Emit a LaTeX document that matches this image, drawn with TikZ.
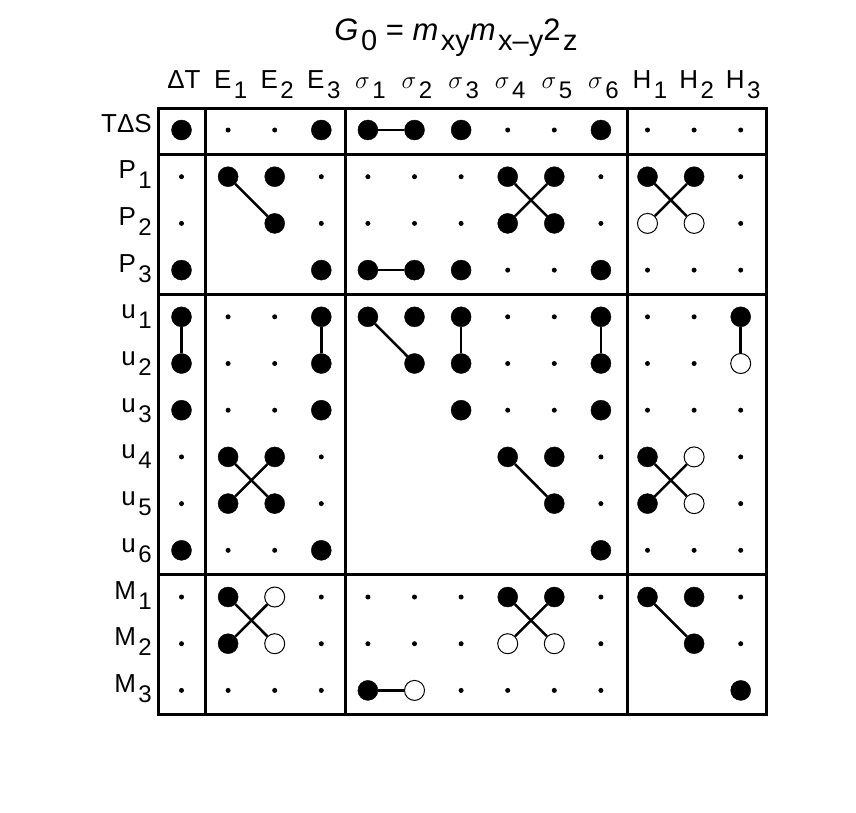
\documentclass[tikz,border=0pt]{standalone}
\usepackage{fontspec}
\setmainfont{Liberation Sans}
\newcommand\lowsub[1]{\kern2.5pt\raisebox{-10pt}{\fontsize{24}{24}\selectfont #1}}
\newcommand\lblsize{\fontsize{26}{26}\selectfont}
\tikzset{
  dotB/.style={circle,fill=black,draw=black,minimum size=20pt,inner sep=0pt},
  dotS/.style={circle,fill=black,minimum size=5pt,inner sep=0pt},
  dotO/.style={circle,fill=white,draw=black,line width=1pt,minimum size=20pt,inner sep=0pt},
  dotN/.style={inner sep=0pt,minimum size=0pt},
  pair/.style={line width=2.5pt},
  frame/.style={line width=3pt},
  lbl/.style={inner sep=0pt}
}
\begin{document}
\begin{tikzpicture}[x=1pt,y=-1pt]
	\useasboundingbox (0,0) rectangle (856,812);
	\node[lbl,anchor=base] (title) at (456,40) {\fontsize{31}{31}\selectfont {\itshape G}\lowsub{\fontsize{29}{29}\selectfont 0} = {\itshape m}\lowsub{\fontsize{29}{29}\selectfont xy}{\itshape m}\lowsub{\fontsize{29}{29}\selectfont x\textendash y}2\lowsub{\fontsize{29}{29}\selectfont z}};
	% column labels
	\foreach \t [count=\c from 0] in {ΔT,E\lowsub{1},E\lowsub{2},E\lowsub{3},$\sigma$\lowsub{1},$\sigma$\lowsub{2},$\sigma$\lowsub{3},$\sigma$\lowsub{4},$\sigma$\lowsub{5},$\sigma$\lowsub{6},H\lowsub{1},H\lowsub{2},H\lowsub{3}}
		\node[lbl,anchor=base] (col\c) at (184+46.6*\c,88) {\lblsize\t};
	% row labels
	\foreach \t [count=\r from 0] in {TΔS,P\lowsub{1},P\lowsub{2},P\lowsub{3},u\lowsub{1},u\lowsub{2},u\lowsub{3},u\lowsub{4},u\lowsub{5},u\lowsub{6},M\lowsub{1},M\lowsub{2},M\lowsub{3}}
		\node[lbl,anchor=base east] (row\r) at (152,132+46.7*\r) {\lblsize\t};
	% cells, one line per row
	\foreach \cells [count=\r from 0] in {
		{B,S,S,B,B,B,B,S,S,B,S,S,S},
		{S,B,B,S,S,S,S,B,B,S,B,B,S},
		{S,N,B,S,S,S,S,B,B,S,O,O,S},
		{B,N,N,B,B,B,B,S,S,B,S,S,S},
		{B,S,S,B,B,B,B,S,S,B,S,S,B},
		{B,S,S,B,N,B,B,S,S,B,S,S,O},
		{B,S,S,B,N,N,B,S,S,B,S,S,S},
		{S,B,B,S,N,N,N,B,B,S,B,O,S},
		{S,B,B,S,N,N,N,N,B,S,B,O,S},
		{B,S,S,B,N,N,N,N,N,B,S,S,S},
		{S,B,O,S,S,S,S,B,B,S,B,B,S},
		{S,B,O,S,S,S,S,O,O,S,N,B,S},
		{S,S,S,S,B,O,S,S,S,S,N,N,B}}
		\foreach \t [count=\c from 0] in \cells
			\node[dot\t] (c\c-\r) at (181.5+46.6*\c,130+46.7*\r) {};
	% pairs
	\foreach \a/\b in {c4-0/c5-0, c1-1/c2-2, c7-1/c8-2, c8-1/c7-2, c10-1/c11-2, c11-1/c10-2,
		c4-3/c5-3, c0-4/c0-5, c3-4/c3-5, c4-4/c5-5, c6-4/c6-5, c9-4/c9-5, c12-4/c12-5,
		c1-7/c2-8, c2-7/c1-8, c7-7/c8-8, c10-7/c11-8, c11-7/c10-8,
		c1-10/c2-11, c2-10/c1-11, c7-10/c8-11, c8-10/c7-11, c10-10/c11-11, c4-12/c5-12}
		\draw[pair] (\a) -- (\b);
	% frame
	\draw[frame] (158,108) rectangle (766,714);
	\draw[frame] (205,108) -- (205,714) (345,108) -- (345,714) (627,108) -- (627,714);
	\draw[frame] (158,154) -- (766,154) (158,294) -- (766,294) (158,574) -- (766,574);
\end{tikzpicture}
\end{document}
